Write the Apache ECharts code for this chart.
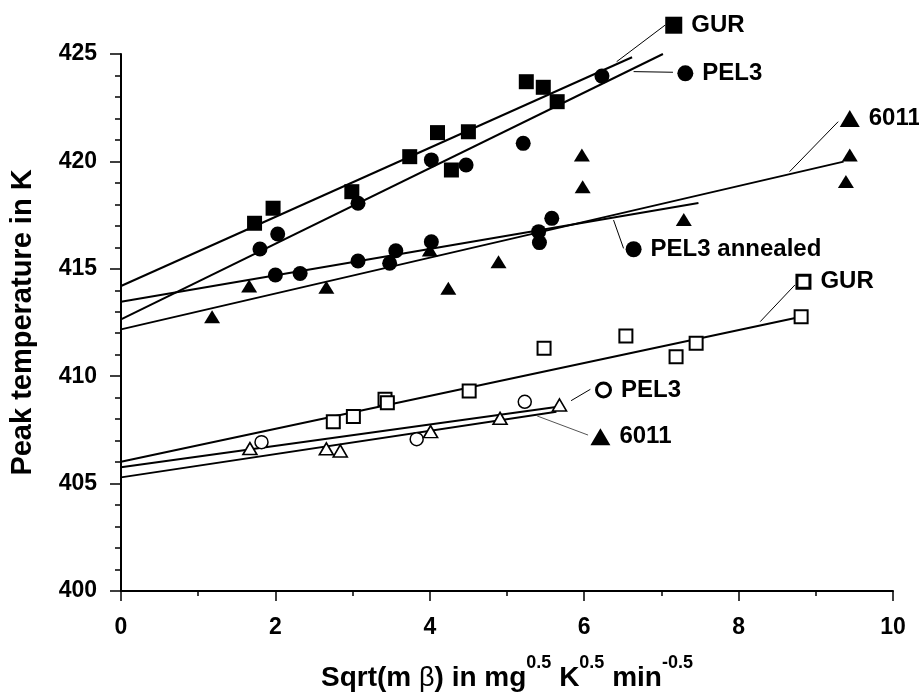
<!DOCTYPE html>
<html><head><meta charset="utf-8">
<script src="https://cdn.jsdelivr.net/npm/echarts@6/dist/echarts.min.js"></script>
<style>html,body{margin:0;padding:0;background:#fff}#c{width:919px;height:695px}</style>
</head><body><div id="c"></div>
<script>
const FONT = '"Liberation Sans", Arial, Helvetica, sans-serif';

// ---- data: [sqrt(m*beta), peak temperature K] ----
const gurFilled = [[1.73,417.12],[1.97,417.82],[2.99,418.59],[3.74,420.22],[4.10,421.34],[4.28,419.60],[4.50,421.38],[5.25,423.71],[5.47,423.45],[5.65,422.78]];
const pel3Filled = [[1.80,415.92],[2.03,416.62],[3.07,418.05],[4.02,420.07],[4.47,419.83],[5.21,420.84],[6.23,423.97]];
const pel3Annealed = [[2.00,414.71],[2.32,414.78],[3.07,415.36],[3.48,415.26],[3.56,415.84],[4.02,416.26],[5.41,416.73],[5.42,416.22],[5.58,417.35]];
const f6011Filled = [[1.18,412.77],[1.66,414.20],[2.66,414.14],[4.00,415.88],[4.24,414.09],[4.89,415.33],[5.97,420.30],[5.98,418.82],[7.29,417.30],[9.44,420.30],[9.39,419.06]];
const gurOpen = [[2.75,407.88],[3.01,408.12],[3.42,408.93],[3.45,408.76],[4.51,409.31],[5.48,411.30],[6.54,411.87],[7.19,410.91],[7.45,411.53],[8.81,412.77]];
const pel3Open = [[1.82,406.93],[3.83,407.07],[5.23,408.81]];
const f6011Open = [[1.67,406.63],[2.66,406.62],[2.84,406.52],[4.01,407.42],[4.91,408.04],[5.68,408.66]];

// regression lines (start / end points)
const gurFilledFit = [[0,414.20],[6.62,424.85]];
const pel3FilledFit = [[0,412.65],[7.02,425.00]];
const pel3AnnealedFit = [[0,413.47],[7.48,418.06]];
const f6011FilledFit = [[0,412.18],[9.36,419.99]];
const gurOpenFit = [[0,406.02],[8.81,412.77]];
const pel3OpenFit = [[0,405.76],[5.73,408.61]];
const f6011OpenFit = [[0,405.29],[5.64,408.35]];

// annotation labels
const noteText = ['GUR','PEL3','6011','PEL3 annealed','GUR','PEL3','6011'];
const noteX = [7.16, 7.31, 9.44, 6.64, 8.84, 6.25, 6.21];
const noteY = [426.34, 424.10, 422.00, 415.91, 414.40, 409.36, 407.18];
const noteKind = ['fsq','fci','ftr','fci','osq','oci','ftr'];
const leaderLines = [
  [[7.05,426.35],[6.42,424.64]],
  [[6.64,424.18],[7.15,424.15]],
  [[9.29,421.85],[8.66,419.52]],
  [[6.38,417.27],[6.51,415.95]],
  [[8.73,414.25],[8.28,412.54]],
  [[6.08,409.39],[5.83,408.86]],
  [[6.05,407.26],[5.39,408.15]]
];

// axes
const xMin = 0, xMax = 10, xStep = 2;
const yMin = 400, yMax = 425, yStep = 5;

// ---- styles ----
const kinds = {
  fsq: {symbol:'rect', size:15, item:{color:'#000', opacity:1}},
  fci: {symbol:'circle', size:15, item:{color:'#000', opacity:1}},
  ftr: {symbol:'triangle', size:[16,13], item:{color:'#000', opacity:1}},
  osq: {symbol:'rect', size:13, item:{color:'#fff', borderColor:'#000', borderWidth:2, opacity:1}},
  oci: {symbol:'circle', size:13, item:{color:'#fff', borderColor:'#000', borderWidth:1.5, opacity:1}},
  otr: {symbol:'triangle', size:[14,12], item:{color:'#fff', borderColor:'#000', borderWidth:1.6, opacity:1}}
};
const noteKinds = {
  fsq: {symbol:'rect', size:17, item:{color:'#000', opacity:1}},
  fci: {symbol:'circle', size:16, item:{color:'#000', opacity:1}},
  ftr: {symbol:'triangle', size:[20,17], item:{color:'#000', opacity:1}},
  osq: {symbol:'rect', size:13, item:{color:'#fff', borderColor:'#000', borderWidth:3, opacity:1}},
  oci: {symbol:'circle', size:14, item:{color:'#fff', borderColor:'#000', borderWidth:3, opacity:1}}
};

function scat(data, kind) {
  const k = kinds[kind];
  return {type:'scatter', data, symbol:k.symbol, symbolSize:k.size, itemStyle:k.item, clip:false, z:3, silent:true};
}
function line(data, width, color, z) {
  return {type:'line', data, symbol:'none', showSymbol:false, clip:false, silent:true,
    lineStyle:{color:color, width:width, opacity:1}, z:z};
}

const series = [];
[gurFilledFit, pel3FilledFit, pel3AnnealedFit, f6011FilledFit, gurOpenFit, pel3OpenFit, f6011OpenFit]
  .forEach(d => series.push(line(d, 2, '#000', 2)));
leaderLines.forEach((d, i) => series.push(line(d, 1, i === 6 ? '#555' : '#000', 2)));
series.push(scat(gurFilled, 'fsq'));
series.push(scat(pel3Filled, 'fci'));
series.push(scat(pel3Annealed, 'fci'));
series.push(scat(f6011Filled, 'ftr'));
series.push(scat(gurOpen, 'osq'));
series.push(scat(pel3Open, 'oci'));
series.push(scat(f6011Open, 'otr'));
noteText.forEach((t, i) => {
  const k = noteKinds[noteKind[i]];
  series.push({type:'scatter', data:[[noteX[i], noteY[i]]], symbol:k.symbol, symbolSize:k.size,
    itemStyle:k.item, clip:false, z:4, silent:true,
    label:{show:true, position:'right', distance:9, formatter:t, fontSize:24, fontWeight:'bold',
      fontFamily:FONT, color:'#000'}});
});

const chart = echarts.init(document.getElementById('c'), null, {renderer:'canvas'});
chart.setOption({
  animation:false,
  backgroundColor:'#fff',
  grid:{left:121, right:26, top:54, bottom:104, containLabel:false, outerBoundsMode:'none'},
  xAxis:{type:'value', min:xMin, max:xMax, interval:xStep,
    name:'Sqrt(m {g|β}) in mg{s|0.5} K{s|0.5} min{s|-0.5}',
    nameLocation:'middle', nameGap:63,
    nameTextStyle:{fontSize:28, fontWeight:'bold', fontFamily:FONT, color:'#000', lineHeight:49,
      rich:{s:{fontSize:18, fontWeight:'bold', fontFamily:FONT, color:'#000', lineHeight:18, verticalAlign:'top'},
            g:{fontSize:27, fontWeight:'normal', fontFamily:FONT, color:'#000', lineHeight:49}}},
    axisLine:{show:true, onZero:false, lineStyle:{color:'#000', width:2}},
    axisTick:{show:true, length:10, lineStyle:{color:'#000', width:1.5}},
    minorTick:{show:true, splitNumber:2, length:5, lineStyle:{color:'#000', width:1.5}},
    splitLine:{show:false},
    axisLabel:{fontSize:23, fontWeight:'bold', fontFamily:FONT, color:'#000', margin:25}},
  yAxis:{type:'value', min:yMin, max:yMax, interval:yStep,
    name:'Peak temperature in K', nameLocation:'middle', nameGap:83,
    nameTextStyle:{fontSize:29, fontWeight:'bold', fontFamily:FONT, color:'#000', lineHeight:30},
    axisLine:{show:true, onZero:false, lineStyle:{color:'#000', width:2}},
    axisTick:{show:true, length:11, lineStyle:{color:'#000', width:1.5}},
    minorTick:{show:true, splitNumber:5, length:6, lineStyle:{color:'#000', width:1.5}},
    splitLine:{show:false},
    axisLabel:{fontSize:23, fontWeight:'bold', fontFamily:FONT, color:'#000', margin:24}},
  series
});
</script></body></html>
